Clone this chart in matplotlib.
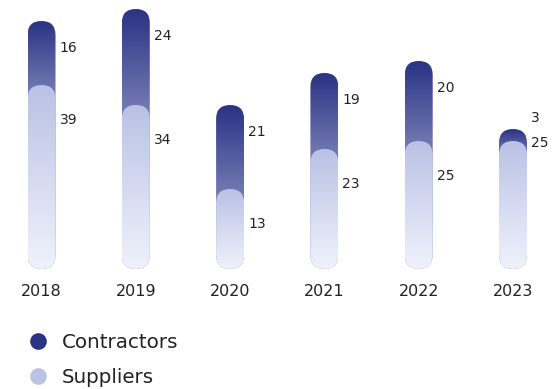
import matplotlib
matplotlib.use("Agg")
import matplotlib.pyplot as plt
import numpy as np
from matplotlib.colors import LinearSegmentedColormap
from matplotlib.lines import Line2D
from matplotlib.patches import FancyBboxPatch

years = ["2018", "2019", "2020", "2021", "2022", "2023"]
contractors = [16, 24, 21, 19, 20, 3]
suppliers = [39, 34, 13, 23, 25, 25]

DARK = "#2b3384"
DARK_LOW = "#7b81b7"
LIGHT_TOP = "#bac2e5"
LIGHT_LOW = "#eff2fb"
TEXT = "#222222"

W, H, DPI = 553, 389, 100
px_per_x = 94.3      # spacing between bars in pixels
px_per_y = 4.0       # pixels per unit
x0_px, y0_px = 41.5, 255.0   # pixel position of first bar centre / zero line (from top)
radius_px = 14.0

fig = plt.figure(figsize=(W / DPI, H / DPI), dpi=DPI)
ax = fig.add_axes([0, 0, 1, 1])
ax.axis("off")

rx = radius_px / px_per_x
ry = radius_px / px_per_y
aspect = ry / rx

cmap_c = LinearSegmentedColormap.from_list("contr", [DARK_LOW, DARK])
cmap_s = LinearSegmentedColormap.from_list("supp", [LIGHT_LOW, LIGHT_TOP])


def pill(ax, x, top, z):
    patch = FancyBboxPatch(
        (x - rx, -ry), 2 * rx, top + 2 * ry,
        boxstyle=f"round,pad=0,rounding_size={rx}",
        mutation_aspect=aspect,
        facecolor="none", edgecolor="none", linewidth=0, zorder=z,
    )
    ax.add_patch(patch)
    return patch


def gradient(ax, patch, x, lo, hi, top, cmap, z):
    ys = np.linspace(-ry, top + ry, 300)
    t = np.clip((ys - lo) / (hi - lo), 0, 1)[:, None]
    im = ax.imshow(t, cmap=cmap, vmin=0, vmax=1, origin="lower", aspect="auto",
                   extent=(x - rx, x + rx, -ry, top + ry),
                   interpolation="bilinear", zorder=z)
    im.set_clip_path(patch)


for i, (year, c, s) in enumerate(zip(years, contractors, suppliers)):
    total = c + s
    p = pill(ax, i, total, 1)
    gradient(ax, p, i, s, total + ry, total, cmap_c, 2)
    p2 = pill(ax, i, s, 3)
    gradient(ax, p2, i, -ry, s + ry, s, cmap_s, 4)

    # value labels to the right of the bar
    if c < 8:
        c_y, s_y = total + 6.2, s + 3
    else:
        c_y, s_y = total - 3.2, s - 5.3
    lx = i + rx + 4 / px_per_x
    ax.text(lx, c_y, str(c), ha="left", va="center", fontsize=10, color=TEXT)
    ax.text(lx, s_y, str(s), ha="left", va="center", fontsize=10, color=TEXT)
    ax.text(i, -(292 - y0_px) / px_per_y, year, ha="center", va="center",
            fontsize=11.5, color=TEXT)

ax.set_xlim(-x0_px / px_per_x, (W - x0_px) / px_per_x)
ax.set_ylim(-(H - y0_px) / px_per_y, y0_px / px_per_y)

handles = [
    Line2D([], [], marker="o", linestyle="none", markersize=12,
           markerfacecolor=DARK, markeredgecolor="none", label="Contractors"),
    Line2D([], [], marker="o", linestyle="none", markersize=12,
           markerfacecolor=LIGHT_TOP, markeredgecolor="none", label="Suppliers"),
]
fig.legend(handles=handles, loc="upper left", bbox_to_anchor=(0.037, 0.17),
           frameon=False, fontsize=14.3, handlelength=0.8, handletextpad=0.78,
           labelspacing=0.8, borderpad=0, labelcolor=TEXT)

fig.savefig("out.png", dpi=DPI)
